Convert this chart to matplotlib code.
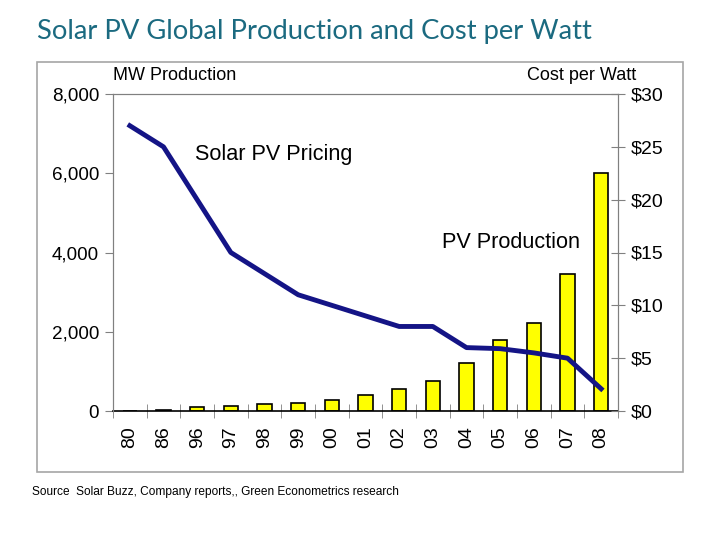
import matplotlib.pyplot as plt
from matplotlib.patches import Rectangle

# 데이터
years = ['80', '86', '96', '97', '98', '99', '00', '01', '02', '03',
         '04', '05', '06', '07', '08']
production_mw = [10, 20, 90, 130, 165, 210, 290, 395, 555, 760,
                 1210, 1800, 2220, 3450, 6000]
cost_per_watt = [27, 25, 20, 15, 13, 11, 10, 9, 8, 8,
                 6, 5.9, 5.5, 5.0, 2.1]

plt.rcParams['font.family'] = ['Liberation Sans', 'DejaVu Sans']

fig = plt.figure(figsize=(7.2, 5.4), dpi=100)

# 바깥 테두리
fig.patches.append(Rectangle((37 / 720, 1 - 472 / 540), 646 / 720, 410 / 540,
                             transform=fig.transFigure, fill=False,
                             edgecolor='#a6a6a6', linewidth=1.2))

fig.text(37 / 720, 1 - 32 / 540, 'Solar PV Global Production and Cost per Watt',
         fontsize=19.7, color='#1b6a80', family=['Lato', 'DejaVu Sans'],
         va='center', ha='left')
fig.text(32 / 720, 1 - 492 / 540, 'Source  Solar Buzz, Company reports,, Green Econometrics research',
         fontsize=8.6, color='black', va='center', ha='left')

ax = fig.add_axes([113 / 720, 1 - 411 / 540, 505 / 720, 317 / 540])
x = list(range(len(years)))
ax.bar(x, production_mw, width=0.42, color='#ffff00', edgecolor='black',
       linewidth=1.2, zorder=2)
ax.set_xlim(-0.5, len(years) - 0.5)
ax.set_ylim(0, 8000)
ax.set_yticks([0, 2000, 4000, 6000, 8000])
ax.set_yticklabels(['0', '2,000', '4,000', '6,000', '8,000'], fontsize=13.6)
ax.set_xticks(x)
ax.set_xticklabels(years, rotation=90, fontsize=14)
ax.set_xticks([i + 0.5 for i in range(-1, len(years))], minor=True)
ax.tick_params(axis='x', which='major', length=0, pad=11)
ax.tick_params(axis='x', which='minor', length=10, direction='inout', color='#808080')
ax.tick_params(axis='y', length=6, direction='out', color='#808080', pad=4)
for s in ax.spines.values():
    s.set_color('#808080')
ax.spines['bottom'].set_color('black')
ax.spines['bottom'].set_linewidth(1.2)

ax2 = ax.twinx()
ax2.plot(x, cost_per_watt, color='#141486', linewidth=3.5, zorder=3)
ax2.set_ylim(0, 30)
ax2.set_yticks([0, 5, 10, 15, 20, 25, 30])
ax2.set_yticklabels(['$0', '$5', '$10', '$15', '$20', '$25', '$30'], fontsize=14)
ax2.tick_params(axis='y', length=10, direction='inout', color='#808080', pad=4)
for s in ax2.spines.values():
    s.set_color('#808080')
ax2.spines['bottom'].set_visible(False)

ax.text(0.0, 1.03, 'MW Production', transform=ax.transAxes, fontsize=13,
        ha='left', va='bottom')
ax.text(1.037, 1.03, 'Cost per Watt', transform=ax.transAxes, fontsize=13,
        ha='right', va='bottom')
ax2.text(1.94, 24.3, 'Solar PV Pricing', fontsize=15.6, ha='left', va='center')
ax2.text(9.27, 15.9, 'PV Production', fontsize=15.6, ha='left', va='center')

fig.savefig('out.png', dpi=100)
